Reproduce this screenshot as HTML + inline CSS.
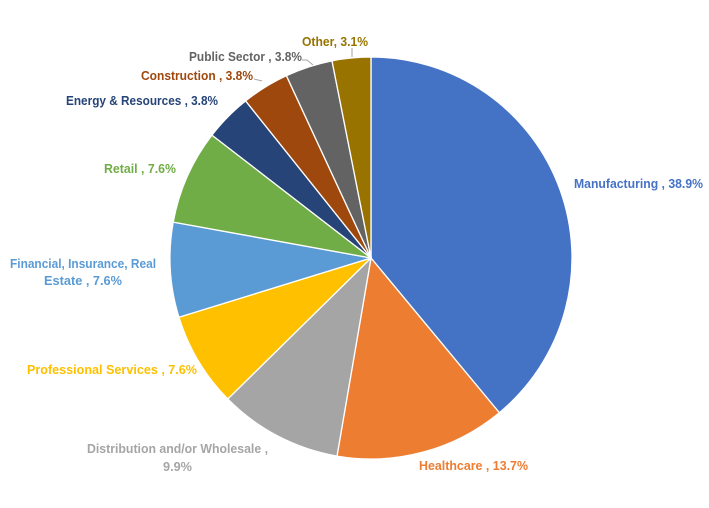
<!DOCTYPE html>
<html><head><meta charset="utf-8"><style>
html,body{margin:0;padding:0;background:#fff;width:709px;height:508px;overflow:hidden}
text{font-family:"Liberation Sans",Arial,sans-serif;font-weight:bold;font-size:12.5px}
</style></head><body>
<svg id="s" width="709" height="508" xmlns="http://www.w3.org/2000/svg">
<g id="pie"></g>
<g fill="none" stroke="#a6a6a6" stroke-width="1">
<polyline points="302,60 307,60 313,65"/>
<polyline points="352,48 352,57"/>
<polyline points="254,79 262,81"/>
</g>
<g lengthAdjust="spacingAndGlyphs">
<text x="574" y="188" fill="#4472C4" textLength="129" lengthAdjust="spacingAndGlyphs">Manufacturing , 38.9%</text>
<text x="419" y="470" fill="#ED7D31" textLength="109" lengthAdjust="spacingAndGlyphs">Healthcare , 13.7%</text>
<text x="87" y="453" fill="#A5A5A5" textLength="181" lengthAdjust="spacingAndGlyphs">Distribution and/or Wholesale ,</text>
<text x="163" y="471" fill="#A5A5A5" textLength="29" lengthAdjust="spacingAndGlyphs">9.9%</text>
<text x="27" y="374" fill="#FFC000" textLength="170" lengthAdjust="spacingAndGlyphs">Professional Services , 7.6%</text>
<text x="10" y="268" fill="#5B9BD5" textLength="146" lengthAdjust="spacingAndGlyphs">Financial, Insurance, Real</text>
<text x="44" y="285" fill="#5B9BD5" textLength="78" lengthAdjust="spacingAndGlyphs">Estate , 7.6%</text>
<text x="104" y="173" fill="#70AD47" textLength="72" lengthAdjust="spacingAndGlyphs">Retail , 7.6%</text>
<text x="66" y="105" fill="#264478" textLength="152" lengthAdjust="spacingAndGlyphs">Energy &amp; Resources , 3.8%</text>
<text x="141" y="80" fill="#9E480E" textLength="112" lengthAdjust="spacingAndGlyphs">Construction , 3.8%</text>
<text x="189" y="61" fill="#636363" textLength="113" lengthAdjust="spacingAndGlyphs">Public Sector , 3.8%</text>
<text x="302" y="46" fill="#997300" textLength="66" lengthAdjust="spacingAndGlyphs">Other, 3.1%</text>
</g>
</svg>
<script>
var d=[[38.9,"#4472C4"],[13.7,"#ED7D31"],[9.9,"#A5A5A5"],[7.6,"#FFC000"],[7.6,"#5B9BD5"],[7.6,"#70AD47"],[3.8,"#264478"],[3.8,"#9E480E"],[3.8,"#636363"],[3.1,"#997300"]];
var tot=0;d.forEach(function(x){tot+=x[0]});
var cx=371,cy=258,r=201,a=0,g=document.getElementById("pie"),h="";
d.forEach(function(x){
 var a2=a+x[0]/tot*2*Math.PI;
 var x1=cx+r*Math.sin(a),y1=cy-r*Math.cos(a),x2=cx+r*Math.sin(a2),y2=cy-r*Math.cos(a2);
 var lg=(a2-a)>Math.PI?1:0;
 h+='<path d="M'+cx+','+cy+' L'+x1+','+y1+' A'+r+','+r+' 0 '+lg+' 1 '+x2+','+y2+' Z" fill="'+x[1]+'" stroke="#fff" stroke-width="1.3"/>';
 a=a2;
});
g.innerHTML=h;
</script>
</body></html>
